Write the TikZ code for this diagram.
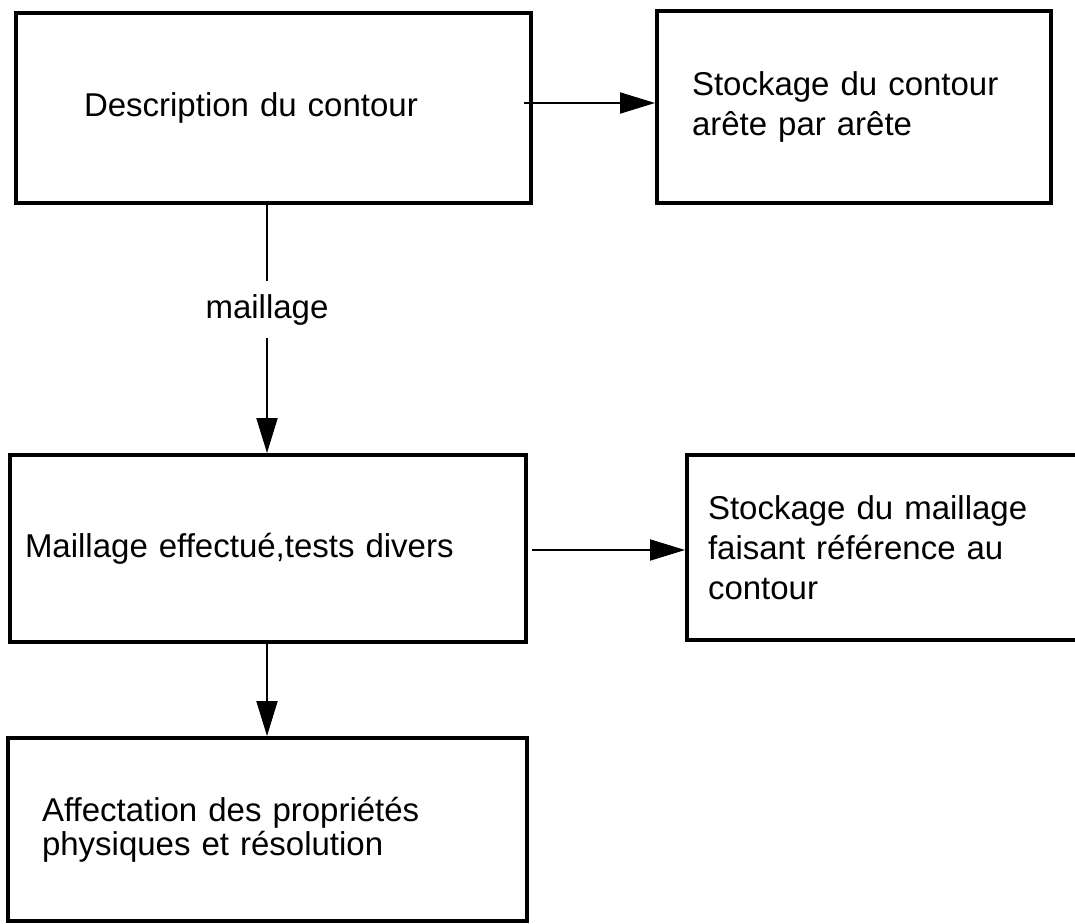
\documentclass[tikz,border=0pt]{standalone}
\usepackage{fontspec}
\setmainfont{Liberation Sans}
\usetikzlibrary{arrows.meta}
\begin{document}
\begin{tikzpicture}[x=1pt,y=-1pt,
  box/.style={draw, line width=4pt, rectangle, align=left, inner ysep=0pt,
    font=\fontsize{33}{40}\selectfont},
  conn/.style={line width=2pt},
  arr/.style={conn, -{Triangle[length=35pt,width=21pt]}}]
\useasboundingbox (0,0) rectangle (1075,923);
\node[box, minimum width=515pt, minimum height=190pt, inner xsep=68pt, text width=379pt]
  (d1) at (273.5,108) {Description du contour};
\node[box, minimum width=394pt, minimum height=192pt, inner xsep=35pt, text width=324pt]
  (d2) at (854,107) {Stockage du contour\\arête par arête};
\node[box, minimum width=516pt, minimum height=187pt, inner xsep=15pt, text width=486pt]
  (d3) at (268,548.5) {Maillage effectué,tests divers};
\node[box, minimum width=413pt, minimum height=185pt, inner xsep=21pt, text width=371pt]
  (d4) at (893.5,547.5) {Stockage du maillage\\faisant référence au\\contour};
\node[box, minimum width=519pt, minimum height=183pt, inner xsep=34pt, text width=451pt,
  font=\fontsize{33}{34}\selectfont]
  (d5) at (267.5,829.5) {Affectation des propriétés\\physiques et résolution};
\node[font=\fontsize{33}{40}\selectfont, inner ysep=13pt, inner xsep=0pt, anchor=base]
  (lbl) at (267,318) {maillage};
\draw[arr] ([xshift=-9pt,yshift=5pt]d1.east) -- ([yshift=4pt]d2.west);
\draw[arr] ([xshift=4pt,yshift=-1.5pt]d3.east) -- ([yshift=-2.5pt]d4.west);
\draw[conn] (lbl.north |- d1.south) -- (lbl.north);
\draw[arr] (lbl.south) -- (lbl.south |- d3.north);
\draw[arr] (lbl.south |- d3.south) -- (lbl.south |- d5.north);
\end{tikzpicture}
\end{document}
